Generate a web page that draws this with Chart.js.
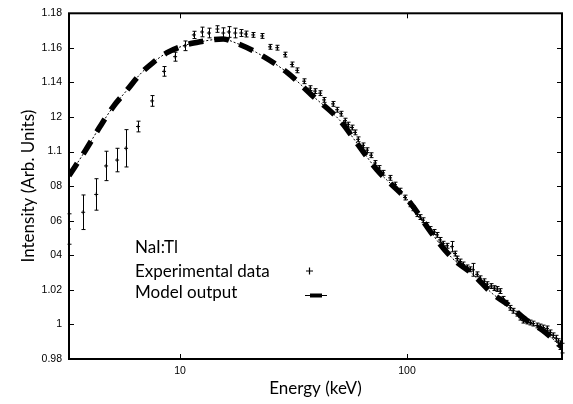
<!DOCTYPE html>
<html>
<head>
<meta charset="utf-8">
<script src="https://cdn.jsdelivr.net/npm/chart.js@4.4.1/dist/chart.umd.min.js"></script>
<style>
  html, body { margin: 0; padding: 0; background: #fff; }
  #grafico { display: block; }
</style>
</head>
<body>
<canvas id="grafico" width="573" height="404"></canvas>
<script>
// datos experimentales (keV, intensidad, error)
const energias = [3.24, 3.74, 4.27, 4.72, 5.28, 5.78, 6.53, 7.53, 8.50, 9.51,
  10.5, 11.5, 12.5, 13.4, 14.6, 15.5, 16.4, 17.5, 18.6, 19.5,
  21.0, 23.0, 24.9, 26.8, 29.0, 31.1, 32.8, 35.2, 37.4, 39.3,
  41.4, 43.1, 47.2, 49.2, 51.2, 53.3, 55.0, 57.2, 59.0, 60.8,
  64.0, 66.6, 69.4, 72.3, 75.3, 78.4, 84.2, 88.5, 93.1, 98.0,
  103.1, 106.3, 110.7, 114.1, 117.6, 122.5, 126.3, 131.5, 135.6, 139.8,
  144.1, 150.1, 157.9, 162.8, 166.1, 171.2, 176.5, 183.8, 189.5, 195.4,
  203.5, 209.8, 218.5, 225.2, 234.5, 241.8, 249.3, 257.0, 264.9, 273.1,
  284.4, 293.2, 305.4, 314.8, 324.5, 338.0, 348.4, 359.2, 374.1, 385.6,
  397.5, 414.0, 426.8, 440.0, 453.6, 462.9, 472.4, 482.1];
const intensidades = [1.0552, 1.0649, 1.0752, 1.0917, 1.0951, 1.1019, 1.1145, 1.1293, 1.1464, 1.1549,
  1.1612, 1.1675, 1.1692, 1.1686, 1.1709, 1.1686, 1.1692, 1.1686, 1.1686, 1.1680,
  1.1675, 1.1669, 1.1606, 1.1601, 1.1561, 1.1504, 1.1470, 1.1407, 1.1367, 1.1350,
  1.1338, 1.1299, 1.1276, 1.1242, 1.1219, 1.1179, 1.1156, 1.1139, 1.1111, 1.1071,
  1.1036, 1.1008, 1.0979, 1.0934, 1.0905, 1.0877, 1.0848, 1.0809, 1.0774, 1.0734,
  1.0695, 1.0672, 1.0638, 1.0621, 1.0603, 1.0575, 1.0552, 1.0535, 1.0518, 1.0489,
  1.0467, 1.0455, 1.0450, 1.0410, 1.0381, 1.0364, 1.0347, 1.0330, 1.0319, 1.0316,
  1.0290, 1.0267, 1.0250, 1.0233, 1.0222, 1.0210, 1.0205, 1.0193, 1.0148, 1.0125,
  1.0096, 1.0079, 1.0062, 1.0039, 1.0022, 1.0017, 1.0011, 1.0005, 0.9994, 0.9988,
  0.9982, 0.9977, 0.9954, 0.9937, 0.9920, 0.9897, 0.9880, 0.9863];
const errores = [0.0088, 0.0100, 0.0091, 0.0085, 0.0068, 0.0108, 0.0031, 0.0031, 0.0028, 0.0026,
  0.0028, 0.0021, 0.0028, 0.0028, 0.0019, 0.0030, 0.0031, 0.0028, 0.0020, 0.0017,
  0.0014, 0.0014, 0.0014, 0.0014, 0.0014, 0.0014, 0.0014, 0.0014, 0.0014, 0.0014,
  0.0014, 0.0014, 0.0014, 0.0014, 0.0014, 0.0014, 0.0014, 0.0014, 0.0014, 0.0014,
  0.0014, 0.0014, 0.0014, 0.0014, 0.0014, 0.0014, 0.0014, 0.0014, 0.0014, 0.0014,
  0.0014, 0.0014, 0.0014, 0.0014, 0.0014, 0.0014, 0.0014, 0.0014, 0.0014, 0.0014,
  0.0014, 0.0014, 0.0030, 0.0014, 0.0014, 0.0014, 0.0014, 0.0014, 0.0014, 0.0037,
  0.0014, 0.0014, 0.0014, 0.0014, 0.0014, 0.0014, 0.0014, 0.0014, 0.0014, 0.0014,
  0.0014, 0.0014, 0.0014, 0.0014, 0.0014, 0.0014, 0.0014, 0.0014, 0.0014, 0.0014,
  0.0014, 0.0014, 0.0014, 0.0014, 0.0017, 0.0020, 0.0025, 0.0028];

// salida del modelo
const energiasModelo = [3.24, 3.81, 4.44, 5.07, 5.84, 6.66, 7.60, 8.76, 10.7, 12.25,
  15.5, 17.1, 21.8, 29.6, 38.5, 50.7, 60.2, 73.8, 90.3, 103,
  130, 159, 195, 239, 276, 338, 397, 482];
const valoresModelo = [1.086, 1.1002, 1.1145, 1.1259, 1.1356, 1.1447, 1.1515, 1.1572, 1.1618, 1.1635,
  1.1652, 1.1635, 1.1572, 1.1458, 1.1321, 1.1179, 1.1048, 1.0894, 1.078, 1.0706,
  1.0518, 1.0381, 1.029, 1.0176, 1.0119, 1.0022, 0.9965, 0.9868];

// ejes
const ticksX = [10, 100];
const ticksY = [0.98, 1.0, 1.02, 1.04, 1.06, 1.08, 1.1, 1.12, 1.14, 1.16, 1.18];
const etiquetasY = ['0.98', '1', '1.02', '04', '06', '08', '1.1', '12', '1.14', '1.16', '1.18'];

const puntosExp = energias.map((e, i) => ({ x: e, y: intensidades[i] }));
const puntosModelo = energiasModelo.map((e, i) => ({ x: e, y: valoresModelo[i] }));

const fuenteTexto = 'Lato, "Open Sans", sans-serif';

// barras de error + marco + ticks hacia dentro + textos
const pluginExtras = {
  id: 'extras',
  afterDatasetsDraw(chart) {
    const ctx = chart.ctx;
    const xs = chart.scales.x, ys = chart.scales.y;
    const area = chart.chartArea;
    ctx.save();
    ctx.strokeStyle = '#000';
    ctx.lineWidth = 1;
    energias.forEach((e, i) => {
      const px = Math.round(xs.getPixelForValue(e)) + 0.5;
      const y1 = ys.getPixelForValue(intensidades[i] + errores[i]);
      const y2 = ys.getPixelForValue(intensidades[i] - errores[i]);
      ctx.beginPath();
      ctx.moveTo(px, y1); ctx.lineTo(px, y2);
      ctx.moveTo(px - 2, y1); ctx.lineTo(px + 2, y1);
      ctx.moveTo(px - 2, y2); ctx.lineTo(px + 2, y2);
      ctx.stroke();
    });

    // ticks hacia dentro
    ys.ticks.forEach(t => {
      const py = Math.round(ys.getPixelForValue(t.value)) + 0.5;
      ctx.beginPath();
      ctx.moveTo(area.left, py); ctx.lineTo(area.left + 5, py);
      ctx.moveTo(area.right, py); ctx.lineTo(area.right - 5, py);
      ctx.stroke();
    });
    xs.ticks.forEach(t => {
      const px = Math.round(xs.getPixelForValue(t.value)) + 0.5;
      ctx.beginPath();
      ctx.moveTo(px, area.bottom); ctx.lineTo(px, area.bottom - 5);
      ctx.moveTo(px, area.top); ctx.lineTo(px, area.top + 5);
      ctx.stroke();
    });

    // marco
    ctx.lineWidth = 2;
    ctx.strokeRect(area.left, area.top, area.right - area.left, area.bottom - area.top);

    // titulos de ejes
    ctx.fillStyle = '#000';
    ctx.font = '17px ' + fuenteTexto;
    ctx.textAlign = 'center';
    ctx.textBaseline = 'middle';
    ctx.fillText('Energy (keV)', (area.left + area.right) / 2, 389);
    ctx.save();
    ctx.translate(29, (area.top + area.bottom) / 2);
    ctx.rotate(-Math.PI / 2);
    ctx.fillText('Intensity (Arb. Units)', 0, 0);
    ctx.restore();

    // leyenda
    ctx.textAlign = 'left';
    ctx.fillText('NaI:Tl', 135, 248);
    ctx.fillText('Experimental data', 135, 272);
    ctx.fillText('Model output', 135, 293);
    ctx.lineWidth = 1.2;
    ctx.beginPath();
    ctx.moveTo(306, 271); ctx.lineTo(313, 271);
    ctx.moveTo(309.5, 267.5); ctx.lineTo(309.5, 274.5);
    ctx.stroke();
    ctx.lineWidth = 1;
    ctx.beginPath();
    ctx.moveTo(305, 295.5); ctx.lineTo(327, 295.5);
    ctx.stroke();
    ctx.lineWidth = 4;
    ctx.beginPath();
    ctx.moveTo(310, 295.5); ctx.lineTo(322, 295.5);
    ctx.stroke();
    ctx.restore();
  }
};

new Chart(document.getElementById('grafico'), {
  type: 'scatter',
  data: {
    datasets: [
      {
        label: 'Experimental data',
        data: puntosExp,
        showLine: false,
        pointStyle: 'cross',
        pointRadius: 2,
        borderColor: '#000',
        borderWidth: 1
      },
      {
        label: 'Model output',
        data: puntosModelo,
        showLine: true,
        pointRadius: 0,
        borderColor: '#000',
        borderWidth: 1,
        borderDash: [2, 2],
        cubicInterpolationMode: 'monotone'
      },
      {
        label: 'Model output (dash)',
        data: puntosModelo,
        showLine: true,
        pointRadius: 0,
        borderColor: '#000',
        borderWidth: 5.5,
        borderDash: [15, 11],
        borderCapStyle: 'butt',
        cubicInterpolationMode: 'monotone'
      }
    ]
  },
  options: {
    responsive: false,
    animation: false,
    layout: { padding: { top: 8, right: 11, left: 0, bottom: 0 } },
    plugins: { legend: { display: false }, tooltip: { enabled: false } },
    scales: {
      x: {
        type: 'logarithmic',
        min: 3.24,
        max: 482,
        afterBuildTicks: s => { s.ticks = ticksX.map(v => ({ value: v })); },
        afterFit: s => { s.height = 45; },
        grid: { display: false, drawTicks: false },
        border: { display: false },
        ticks: {
          autoSkip: false,
          maxRotation: 0,
          padding: 6,
          color: '#000',
          font: { family: '"Liberation Sans", Arial, sans-serif', size: 10.5 },
          callback: v => String(v)
        }
      },
      y: {
        min: 0.98,
        max: 1.18,
        afterBuildTicks: s => { s.ticks = ticksY.map(v => ({ value: v })); },
        afterFit: s => { s.width = 69; },
        grid: { display: false, drawTicks: false },
        border: { display: false },
        ticks: {
          padding: 7,
          color: '#000',
          font: { family: '"Liberation Sans", Arial, sans-serif', size: 10.5 },
          callback: (v, i) => etiquetasY[i]
        }
      }
    }
  },
  plugins: [pluginExtras]
});
</script>
</body>
</html>
